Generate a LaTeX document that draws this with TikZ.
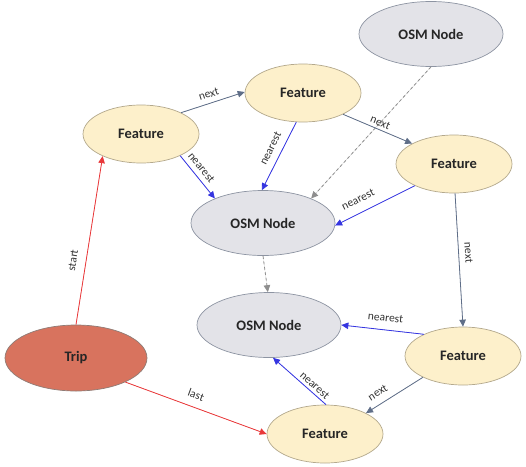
\documentclass[tikz,border=0pt]{standalone}
\usepackage{fontspec}
\setmainfont{Carlito}
\usetikzlibrary{shapes.geometric,arrows.meta}
\definecolor{featfill}{HTML}{FDF0CB}
\definecolor{featdraw}{HTML}{B3A88C}
\definecolor{osmfill}{HTML}{E3E3E8}
\definecolor{osmdraw}{HTML}{8D94A2}
\definecolor{tripfill}{HTML}{D8735E}
\definecolor{tripdraw}{HTML}{8E7C76}
\definecolor{nextcol}{HTML}{5F6E88}
\definecolor{nearcol}{HTML}{3535E0}
\definecolor{redcol}{HTML}{E8383A}
\definecolor{dashcol}{HTML}{8E8E8E}
\tikzset{
  ell/.style={ellipse, inner sep=0pt, line width=0.7pt, font=\fontsize{14.5}{16}\selectfont\bfseries, text=black!85},
  feature/.style={ell, fill=featfill, draw=featdraw, minimum width=116pt, minimum height=58pt},
  osm/.style={ell, fill=osmfill, draw=osmdraw, minimum width=144pt, minimum height=65pt},
  trip/.style={ell, fill=tripfill, draw=tripdraw, minimum width=142pt, minimum height=66pt},
  tip/.style={-{Triangle[width=6.5pt,length=7pt]}},
  nextarr/.style={tip, draw=nextcol, fill=nextcol, line width=0.8pt},
  neararr/.style={tip, draw=nearcol, fill=nearcol, line width=0.8pt},
  redarr/.style={tip, draw=redcol, fill=redcol, line width=0.8pt},
  dasharr/.style={tip, draw=dashcol, fill=dashcol, line width=0.8pt, dash pattern=on 3pt off 2.5pt},
  lab/.style={above, sloped, inner sep=4pt, font=\fontsize{11.5}{12}\selectfont, text=black!80}
}
\begin{document}
\begin{tikzpicture}[x=1pt, y=-1pt]
\useasboundingbox (0,0) rectangle (526,466);
\node[feature] (f1) at (141,134) {Feature};
\node[feature] (f2) at (303,93) {Feature};
\node[osm] (o1) at (431,34) {OSM Node};
\node[feature] (f3) at (454,164) {Feature};
\node[osm] (o2) at (263,223) {OSM Node};
\node[osm] (o3) at (269,325) {OSM Node};
\node[trip] (trip) at (76,358) {Trip};
\node[feature] (f4) at (463,356) {Feature};
\node[feature] (f5) at (325,434) {Feature};

\draw[nextarr] (f1.28) -- node[lab, pos=0.48, inner sep=5pt] {next} (f2.179);
\draw[neararr] (f1.-29) -- node[lab, pos=0.41, inner sep=5pt] {nearest} (o2.153);
\draw[neararr] (f2.-103) -- node[lab, pos=0.46, inner sep=7pt] {nearest} (o2.92);
\draw[dasharr] (o1.-90) -- (o2.27);
\draw[nextarr] (f2.-28) -- node[lab, pos=0.5, inner sep=3pt] {next} (f3.154);
\draw[neararr] (f3.-151) -- node[lab, pos=0.64, inner sep=9pt] {nearest} (o2.-2);
\draw[nextarr] (f3.-88) -- node[lab, pos=0.45, inner sep=6pt] {next} (f4.90);
\draw[dasharr] (o2.-90) -- (o3.92);
\draw[neararr] (f4.151) -- node[lab, pos=0.48, inner sep=8pt] {nearest} (o3.0);
\draw[nextarr] (f4.-152) -- node[lab, pos=0.69, inner sep=7pt] {next} (f5.27);
\draw[neararr] (f5.88) -- node[lab, pos=0.3, inner sep=3pt] {nearest} (o3.-83);
\draw[redarr] (trip.-26) -- node[lab, pos=0.47, inner sep=8pt] {last} (f5.180);
\draw[redarr] (trip.90) -- node[lab, pos=0.37, inner sep=9pt] {start} (f1.-150);
\end{tikzpicture}
\end{document}
